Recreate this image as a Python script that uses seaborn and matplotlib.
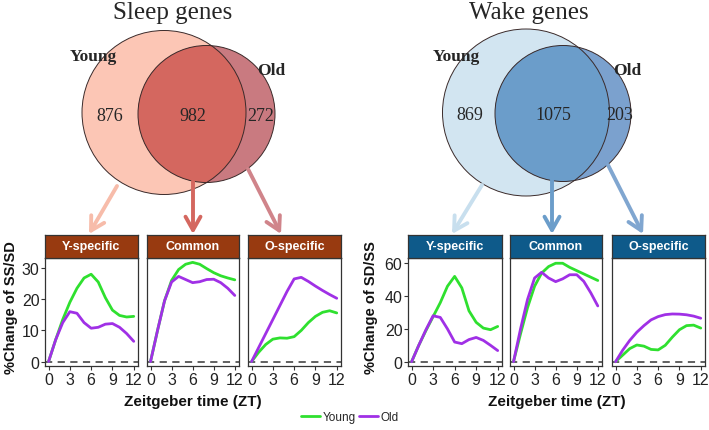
import pandas as pd
import matplotlib.pyplot as plt
import seaborn as sns
from matplotlib.patches import Circle
from matplotlib.lines import Line2D

sns.set_theme(style="white")
plt.rcParams['font.family'] = ['Liberation Sans', 'DejaVu Sans']

# Data
zt = [0, 1, 2, 3, 4, 5, 6, 7, 8, 9, 10, 11, 12]
panel_names = ["Y-specific", "Common", "O-specific"]

# Sleep genes, %Change of SS/SD
sleep_young = [
    [0, 7, 13.5, 19, 23.5, 26.8, 28, 25.5, 20.5, 16.5, 14.8, 14.3, 14.5],
    [0, 10, 19.5, 26, 29.5, 31.2, 31.8, 31.2, 29.8, 28.5, 27.5, 26.8, 26.2],
    [0, 3, 5.5, 7.2, 7.6, 7.5, 8, 10, 12.5, 14.5, 15.8, 16.3, 15.6],
]
sleep_old = [
    [0, 7, 12.5, 16, 15.5, 12.5, 10.7, 11, 12, 12.2, 11, 9, 6.5],
    [0, 10, 19.5, 25.5, 27.3, 26.3, 25.3, 25.6, 26.3, 26.4, 25.3, 23.5, 21.2],
    [0, 4.5, 9, 13.5, 18, 22.5, 26.5, 27, 25.7, 24.2, 22.8, 21.5, 20.3],
]
# Wake genes, %Change of SD/SS
wake_young = [
    [0, 10, 19, 27.5, 36, 46, 52, 45, 31, 24, 20.5, 19.5, 21.5],
    [0, 17, 33, 46, 54, 58, 60, 60, 57.5, 55.5, 53.5, 51.5, 49.5],
    [0, 4, 8, 10.2, 9.5, 7.5, 7.2, 10, 15, 19.5, 22, 22.3, 20.5],
]
wake_old = [
    [0, 10, 19.5, 28, 27, 20, 12, 11, 13.5, 14.8, 13, 10, 6.8],
    [0, 20, 38, 51, 54.5, 51, 48.8, 50.5, 53, 53, 49, 42, 34],
    [0, 7, 13, 18, 22, 25.5, 27.5, 28.7, 29.1, 29, 28.6, 27.8, 26.5],
]

# Venn counts
sleep_counts = [876, 982, 272]
wake_counts = [869, 1075, 203]

young_color = "#2fe02f"
old_color = "#a030e6"


def build_frame(young, old):
    rows = []
    for i, name in enumerate(panel_names):
        for t, v in zip(zt, young[i]):
            rows.append((name, "Young", t, v))
        for t, v in zip(zt, old[i]):
            rows.append((name, "Old", t, v))
    return pd.DataFrame(rows, columns=["panel", "group", "zt", "value"])


W, H = 709, 431
fig = plt.figure(figsize=(W / 100, H / 100), dpi=100)

# overlay in pixel coordinates for the Venn diagrams and arrows
ov = fig.add_axes([0, 0, 1, 1], zorder=0)
ov.set_xlim(0, W)
ov.set_ylim(H, 0)
ov.axis('off')


def draw_venn(young_c, old_c, r1, r2, fills, counts, title, tx, labels_pos, num_pos):
    c_young = Circle(young_c, r1, fc=fills[0], ec='none')
    ov.add_patch(c_young)
    ov.add_patch(Circle(old_c, r2, fc=fills[2], ec='none'))
    inter = Circle(old_c, r2, fc=fills[1], ec='none')
    ov.add_patch(inter)
    inter.set_clip_path(c_young)
    ov.add_patch(Circle(young_c, r1, fill=False, ec='#3a2a2a', lw=0.7))
    ov.add_patch(Circle(old_c, r2, fill=False, ec='#3a2a2a', lw=0.7))
    ov.text(tx, 13, title, ha='center', va='center', fontsize=18,
            family='Liberation Serif')
    ov.text(*labels_pos[0], "Young", ha='center', va='center', fontsize=12.5,
            family='Liberation Serif', fontweight='bold')
    ov.text(*labels_pos[1], "Old", ha='center', va='center', fontsize=12.5,
            family='Liberation Serif', fontweight='bold')
    for (x, y), n in zip(num_pos, counts):
        ov.text(x, y, str(n), ha='center', va='center', fontsize=13,
                family='Liberation Serif')


def draw_arrow(start, end, color):
    ov.annotate('', xy=end, xytext=start,
                arrowprops=dict(arrowstyle='->,head_length=0.8,head_width=0.45',
                                color=color, lw=2.8, shrinkA=0, shrinkB=0,
                                mutation_scale=12))


sleep_fills = ["#fcc6b5", "#d4675f", "#c97a80"]
wake_fills = ["#d2e5f1", "#6b9dca", "#7ba1ce"]

draw_venn((164, 113.5), (206.5, 115), 82, 68.5, sleep_fills, sleep_counts,
          "Sleep genes", 173, [(93, 57), (271, 71)],
          [(110, 117), (193, 117), (261, 117)])
draw_venn((526, 113.5), (563, 114.5), 83.5, 68, wake_fills, wake_counts,
          "Wake genes", 529, [(456, 57), (627, 71)],
          [(470, 116), (553, 116), (620, 116)])

draw_arrow((117, 187), (89, 235), "#f7bcaa")
draw_arrow((193, 182), (193, 235), "#d4675f")
draw_arrow((248, 170), (281, 235), "#d0848a")
draw_arrow((482, 186), (452, 235), "#c8dfee")
draw_arrow((552, 180), (552, 235), "#6b9dca")
draw_arrow((608, 166), (643, 235), "#80a6d0")


def draw_panels(df, xs, ylim, yticks, strip_color, ylabel, ylab_x, xlab_x):
    top, bottom, strip_top = 259, 367, 236
    for i, (x0, x1) in enumerate(xs):
        ax = fig.add_axes([x0 / W, 1 - bottom / H, (x1 - x0) / W, (bottom - top) / H],
                          zorder=2)
        sub = df[df['panel'] == panel_names[i]]
        ax.axhline(0, color='#555555', ls=(0, (4, 3)), lw=1.3, zorder=1)
        sns.lineplot(data=sub, x='zt', y='value', hue='group',
                     hue_order=["Young", "Old"],
                     palette={"Young": young_color, "Old": old_color},
                     ax=ax, legend=False, linewidth=2)
        ax.set_xlim(-0.5, 12.6)
        ax.set_ylim(*ylim)
        ax.set_xticks([0, 3, 6, 9, 12])
        ax.set_yticks(yticks)
        ax.set_xlabel('')
        ax.set_ylabel('')
        ax.set_facecolor('white')
        ax.tick_params(direction='out', length=3, width=0.8, color='#333333',
                       labelsize=11.5, labelcolor='#222222', pad=1,
                       bottom=True, left=(i == 0))
        if i > 0:
            ax.set_yticklabels([])
        for s in ax.spines.values():
            s.set_color('#333333')
            s.set_linewidth(0.9)
        sax = fig.add_axes([x0 / W, 1 - top / H, (x1 - x0) / W, (top - strip_top) / H],
                           zorder=2)
        sax.set_facecolor(strip_color)
        sax.set_xticks([])
        sax.set_yticks([])
        for s in sax.spines.values():
            s.set_color('#333333')
            s.set_linewidth(0.9)
        sax.text(0.5, 0.5, panel_names[i], transform=sax.transAxes, ha='center',
                 va='center', color='white', fontsize=9, fontweight='bold')
    fig.text(ylab_x / W, 1 - 308 / H, ylabel, rotation=90, ha='center',
             va='center', fontsize=10.5, fontweight='bold', color='#111111')
    fig.text(xlab_x / W, 1 - 402 / H, "Zeitgeber time (ZT)", ha='center',
             va='center', fontsize=11, fontweight='bold', color='#111111')


sleep_df = build_frame(sleep_young, sleep_old)
wake_df = build_frame(wake_young, wake_old)

draw_panels(sleep_df, [(45, 138), (147, 239), (248, 341)], (-1.4, 33.2),
            [0, 10, 20, 30], "#983a10", "%Change of SS/SD", 11, 193)
draw_panels(wake_df, [(408, 502), (510, 602), (612, 705)], (-2.6, 63.2),
            [0, 20, 40, 60], "#0e5a8a", "%Change of SD/SS", 371, 557)

handles = [Line2D([], [], color=young_color, lw=2),
           Line2D([], [], color=old_color, lw=2)]
fig.legend(handles, ["Young", "Old"], loc='center',
           bbox_to_anchor=(350 / W, 1 - 418 / H), ncol=2, frameon=False,
           fontsize=8.5, handlelength=1.6, handletextpad=0.2, columnspacing=0.3)

fig.savefig("out.png", dpi=100)
